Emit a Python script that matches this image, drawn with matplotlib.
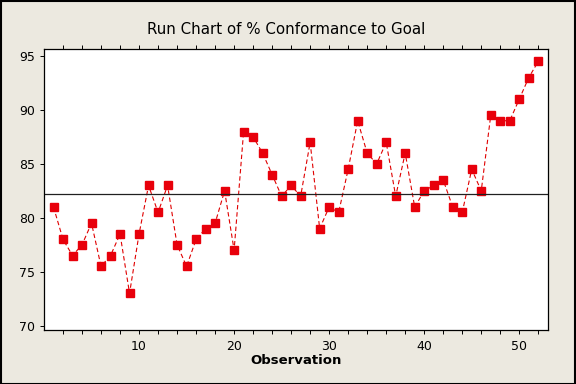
import matplotlib
matplotlib.use("Agg")
import matplotlib.pyplot as plt
from matplotlib.patches import Rectangle
import numpy as np

# % conformance values
observation = list(range(1, 53))
conformance = [81, 78, 76.5, 77.5, 79.5, 75.5, 76.5, 78.5, 73, 78.5,
               83, 80.5, 83, 77.5, 75.5, 78, 79, 79.5, 82.5, 77,
               88, 87.5, 86, 84, 82, 83, 82, 87, 79, 81,
               80.5, 84.5, 89, 86, 85, 87, 82, 86, 81, 82.5,
               83, 83.5, 81, 80.5, 84.5, 82.5, 89.5, 89, 89, 91,
               93, 94.5]
median_line = np.median(conformance)

x_ticks = list(range(2, 53, 2))
x_labels = [str(t) if t % 10 == 0 else "" for t in x_ticks]
y_ticks = [70, 75, 80, 85, 90, 95]

bg = "#ECE9E0"
fig = plt.figure(figsize=(5.76, 3.84), dpi=100, facecolor=bg)
ax = fig.add_axes([0.0764, 0.1406, 0.8746, 0.7318])
ax.set_facecolor("white")

ax.plot(observation, conformance, color="#E00000", linestyle=(0, (4, 2.5)),
        linewidth=0.8, marker="s", markersize=5.5,
        markerfacecolor="#E8000B", markeredgecolor="#E8000B")
ax.axhline(median_line, color="#202020", linewidth=0.9)

ax.set_xlim(0, 53)
ax.set_ylim(69.6, 95.65)
ax.set_xticks(x_ticks)
ax.set_xticklabels(x_labels)
ax.set_yticks(y_ticks)
ax.tick_params(axis="x", direction="out", length=3, width=0.7,
               top=True, labelsize=9, pad=4)
ax.tick_params(axis="y", direction="out", length=3, width=0.7, labelsize=9)
for s in ax.spines.values():
    s.set_linewidth(0.9)

ax.set_xlabel("Observation", fontsize=9.5, fontweight="bold", labelpad=1)
fig.text(0.497, 0.924, "Run Chart of % Conformance to Goal",
         ha="center", va="center", fontsize=10.8)

fig.patches.append(Rectangle((0.001, 0.001), 0.997, 0.997,
                             transform=fig.transFigure, fill=False,
                             edgecolor="black", linewidth=1.5))

fig.savefig("out.png", dpi=100, facecolor=bg)
